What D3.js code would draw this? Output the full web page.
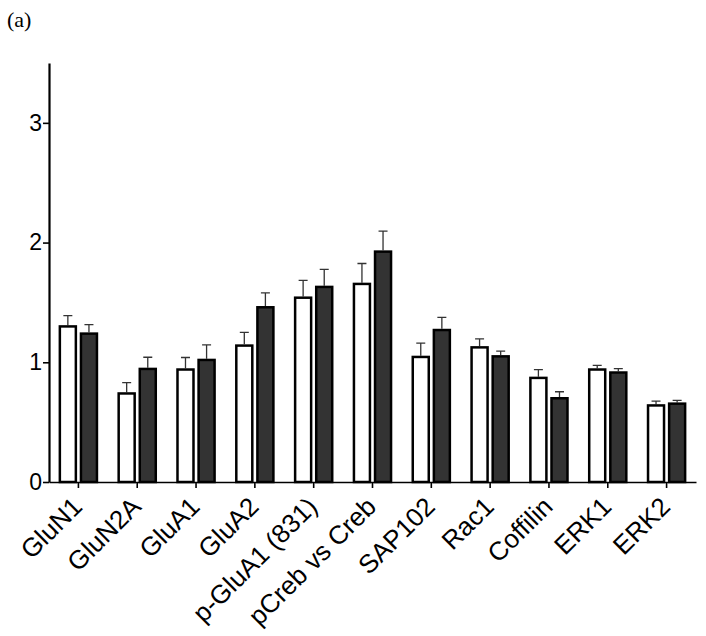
<!DOCTYPE html>
<html>
<head>
<meta charset="utf-8">
<script src="https://cdn.jsdelivr.net/npm/d3@7"></script>
<style>
  body { margin: 0; background: #fff; }
  svg { display: block; }
</style>
</head>
<body>
<svg id="chart"></svg>
<script>
const categories = ["GluN1", "GluN2A", "GluA1", "GluA2", "p-GluA1 (831)", "pCreb vs Creb",
  "SAP102", "Rac1", "Coffilin", "ERK1", "ERK2"];
const seriesNames = ["control", "treated"];
const controlValues = [1.31, 0.75, 0.95, 1.15, 1.55, 1.665, 1.055, 1.135, 0.88, 0.95, 0.65];
const controlErrors = [0.08, 0.08, 0.09, 0.10, 0.135, 0.16, 0.105, 0.06, 0.058, 0.025, 0.025];
const treatedValues = [1.25, 0.955, 1.03, 1.47, 1.64, 1.935, 1.28, 1.06, 0.71, 0.925, 0.665];
const treatedErrors = [0.065, 0.087, 0.115, 0.11, 0.136, 0.16, 0.095, 0.034, 0.044, 0.022, 0.017];
const yTicks = [0, 1, 2, 3];

const svgWidth = 706;
const svgHeight = 636;
const margin = { top: 63, right: 10, bottom: 154, left: 49 };
const width = svgWidth - margin.left - margin.right;
const height = svgHeight - margin.top - margin.bottom;

const data = categories.map((c, i) => ({
  cat: c,
  bars: [
    { s: "control", v: controlValues[i], e: controlErrors[i] },
    { s: "treated", v: treatedValues[i], e: treatedErrors[i] }
  ]
}));

const svg = d3.select("#chart")
  .attr("width", svgWidth)
  .attr("height", svgHeight);

svg.append("text")
  .attr("x", 7)
  .attr("y", 27)
  .attr("font-family", "Liberation Serif, serif")
  .attr("font-size", "22px")
  .text("(a)");

const g = svg.append("g")
  .attr("transform", `translate(${margin.left},${margin.top})`);

const x0 = d3.scaleBand()
  .domain(categories)
  .range([0, 647]);

const x1 = d3.scaleBand()
  .domain(seriesNames)
  .range([9.6, 49.2])
  .paddingInner(0.123);

const y = d3.scaleLinear()
  .domain([0, 3.5])
  .range([height, 0]);

const sw = 2.5;

const groups = g.selectAll(".grp")
  .data(data)
  .enter()
  .append("g")
  .attr("class", "grp")
  .attr("transform", d => `translate(${x0(d.cat)},0)`);

// error bars (upper only)
groups.selectAll(".err")
  .data(d => d.bars)
  .enter()
  .append("path")
  .attr("class", "err")
  .attr("fill", "none")
  .attr("stroke", "#333")
  .attr("stroke-width", 1.3)
  .attr("d", d => {
    const cx = x1(d.s) + x1.bandwidth() / 2;
    const top = y(d.v + d.e);
    return `M${cx},${y(d.v)}V${top}M${cx - 4.5},${top}H${cx + 4.5}`;
  });

groups.selectAll(".bar")
  .data(d => d.bars)
  .enter()
  .append("rect")
  .attr("class", "bar")
  .attr("x", d => x1(d.s) + sw / 2)
  .attr("y", d => y(d.v) + sw / 2)
  .attr("width", x1.bandwidth() - sw)
  .attr("height", d => height - y(d.v) - sw / 2)
  .attr("fill", d => d.s === "control" ? "#fff" : "#333")
  .attr("stroke", "#000")
  .attr("stroke-width", sw);

// x axis
const xAxis = g.append("g")
  .attr("transform", `translate(0,${height})`)
  .call(d3.axisBottom(x0).tickSize(6).tickSizeOuter(0));
xAxis.select(".domain").attr("stroke-width", 1.6);
xAxis.selectAll(".tick line").attr("stroke-width", 1.6);
xAxis.selectAll("text")
  .attr("font-family", "Liberation Sans, Arial, sans-serif")
  .attr("font-size", "26px")
  .attr("fill", "#000")
  .attr("text-anchor", "end")
  .attr("x", 0)
  .attr("y", 0)
  .attr("dy", "0.72em")
  .attr("transform", "translate(-8,13) rotate(-45)");

// y axis
const yAxis = g.append("g")
  .call(d3.axisLeft(y).tickValues(yTicks).tickFormat(d3.format("d")).tickSize(6).tickSizeOuter(0));
yAxis.select(".domain").attr("stroke-width", 2.2);
yAxis.selectAll(".tick line").attr("stroke-width", 1.6);
yAxis.selectAll("text")
  .attr("font-family", "Liberation Sans, Arial, sans-serif")
  .attr("font-size", "23px")
  .attr("fill", "#000")
  .attr("x", -7);
</script>
</body>
</html>
